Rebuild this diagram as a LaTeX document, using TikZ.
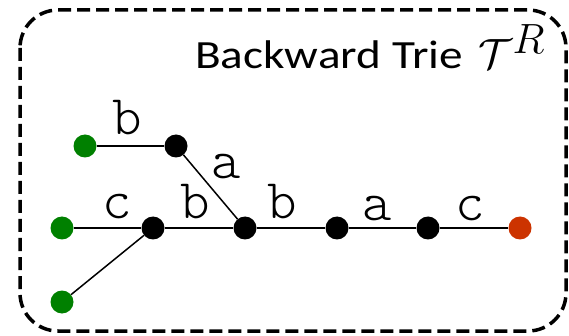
\documentclass[tikz,border=0pt]{standalone}
\usepackage{fontspec}
\usepackage{graphicx}
\setmainfont{Carlito}
\newfontfamily\labelfont{lmmonolt10-regular.otf}
\definecolor{leafgreen}{RGB}{0,128,0}
\definecolor{rootred}{RGB}{204,51,0}
\begin{document}
\begin{tikzpicture}[x=1pt,y=-1pt,
  dot/.style={circle,inner sep=0pt,minimum size=23pt,fill=#1},
  edge/.style={line width=1.5pt},
  lbl/.style={font=\labelfont\fontsize{56}{56}\selectfont,inner sep=0pt}]
\useasboundingbox (0,0) rectangle (569,336);
\draw[line width=3.5pt,dash pattern=on 13pt off 6pt,rounded corners=38pt] (20,10) rectangle (566,331);
\node[anchor=base west,font=\fontsize{40}{40}\selectfont,inner sep=0pt] (title) at (195,69) {\scalebox{1.18}[1]{Backward Trie}\hspace{16pt}\scalebox{1.7}{$\mathcal{T}^R$}};
\node[dot=leafgreen] (g1) at (85,146) {};
\node[dot=black] (n1) at (176,146) {};
\node[dot=leafgreen] (g2) at (62,228) {};
\node[dot=black] (n2) at (153,228) {};
\node[dot=black] (n3) at (245,228) {};
\node[dot=black] (n4) at (337,228) {};
\node[dot=black] (n5) at (428,228) {};
\node[dot=rootred] (r) at (520,228) {};
\node[dot=leafgreen] (g3) at (62,302) {};
\draw[edge] (g1) -- (n1);
\draw[edge] (n1) -- (n3);
\draw[edge] (g2) -- (n2);
\draw[edge] (n2) -- (n3);
\draw[edge] (n3) -- (n4);
\draw[edge] (n4) -- (n5);
\draw[edge] (n5) -- (r);
\draw[edge] (g3) -- (n2);
\node[lbl] (l1) at (127,118) {b};
\node[lbl] (l2) at (226,167) {a};
\node[lbl] (l3) at (117,207) {c};
\node[lbl] (l4) at (195,202) {b};
\node[lbl] (l5) at (282,202) {b};
\node[lbl] (l6) at (377,209) {a};
\node[lbl] (l7) at (470,209) {c};
\end{tikzpicture}
\end{document}
